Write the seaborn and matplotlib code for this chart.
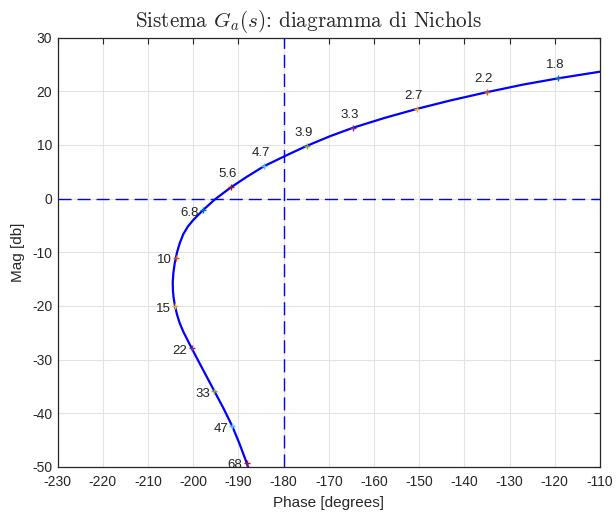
import numpy as np
import pandas as pd
import seaborn as sns
import matplotlib.pyplot as plt

# === Nichols curve (phase in degrees, magnitude in dB) ===
phase = [-110.0, -119.2, -127.0, -135.1, -143.2, -150.6, -157.6, -164.6,
         -169.7, -174.8, -179.7, -184.35, -188.2, -191.65, -195.2, -197.8,
         -200.0, -201.2, -202.2, -203.0, -203.6, -204.1, -204.4, -204.55,
         -204.5, -204.35, -204.05, -203.6, -203.0, -202.2, -201.3, -200.35,
         -197.9, -195.35, -193.3, -191.4, -189.8, -188.2, -187.5]
mag = [23.66, 22.43, 21.26, 19.83, 18.28, 16.71, 15.06, 13.23,
       11.65, 9.87, 7.95, 6.05, 4.05, 2.12, -0.12, -2.1,
       -3.97, -5.2, -6.6, -8.3, -10.0, -12.0, -13.8, -15.5,
       -17.2, -18.5, -20.0, -21.6, -23.2, -24.8, -26.3, -27.88,
       -31.8, -35.84, -39.1, -42.36, -45.6, -49.2, -51.0]

# frequency markers (rad/s) and their position on the curve
freq_labels = ["1.8", "2.2", "2.7", "3.3", "3.9", "4.7", "5.6",
               "6.8", "10", "15", "22", "33", "47", "68"]
freq_phase = [-119.2, -135.1, -150.6, -164.6, -174.8, -184.35, -191.65,
              -197.8, -203.85, -204.05, -200.35, -195.35, -191.4, -188.2]
freq_mag = [22.43, 19.83, 16.71, 13.23, 9.87, 6.05, 2.12,
            -2.1, -11.0, -20.0, -27.88, -35.84, -42.36, -49.2]

xticks = list(range(-230, -109, 10))
yticks = list(range(-50, 31, 10))

matlab_colors = ["#0072BD", "#D95319", "#EDB120", "#7E2F8E",
                 "#77AC30", "#4DBEEE", "#A2142F"]

sns.set_theme(style="white")
plt.rcParams['font.family'] = ['Liberation Sans', 'DejaVu Sans']
plt.rcParams['mathtext.fontset'] = 'cm'
plt.rcParams['axes.unicode_minus'] = False

fig = plt.figure(figsize=(6.16, 5.16), dpi=100, facecolor='white')
ax = fig.add_axes([0.0937, 0.095, 0.8803, 0.832])

curve = pd.DataFrame({"Phase": phase, "Mag": mag})
sns.lineplot(data=curve, x="Phase", y="Mag", sort=False, estimator=None,
             color="#0000ff", linewidth=1.6, ax=ax, zorder=3)

dash = (0, (9.4, 4.3))
ax.axvline(-180, color="#0000ff", linestyle=dash, linewidth=1.0, zorder=2)
ax.axhline(0, color="#0000ff", linestyle=dash, linewidth=1.0, zorder=2)

markers = pd.DataFrame({"Phase": freq_phase, "Mag": freq_mag, "w": freq_labels})
palette = [matlab_colors[i % 7] for i in range(len(freq_labels))]
sns.scatterplot(data=markers, x="Phase", y="Mag", hue="w", palette=palette,
                marker="+", s=18, linewidth=1.0, legend=False, ax=ax, zorder=4)

for lab, x, y in zip(freq_labels, freq_phase, freq_mag):
    if y > 0:
        ax.annotate(lab, (x, y), xytext=(-2.5, 5), textcoords="offset points",
                    ha="center", va="bottom", fontsize=9.5, color="#222222")
    else:
        ax.annotate(lab, (x, y), xytext=(-3, -2), textcoords="offset points",
                    ha="right", va="center", fontsize=9.5, color="#222222")

ax.set_xlim(-230, -110)
ax.set_ylim(-50, 30)
ax.set_xticks(xticks)
ax.set_yticks(yticks)
ax.grid(True, color="#e3e3e3", linewidth=0.8)
ax.set_axisbelow(True)
ax.tick_params(direction="in", length=4, width=0.8, labelsize=10,
               top=True, right=True, colors="#262626")
ax.tick_params(axis="x", pad=6)
ax.tick_params(axis="y", pad=4)
for sp in ax.spines.values():
    sp.set_color("#262626")
    sp.set_linewidth(0.9)

ax.set_xlabel("Phase [degrees]", fontsize=11, color="#262626", labelpad=5)
ax.set_ylabel("Mag [db]", fontsize=11, color="#262626", labelpad=5)
fig.text(0.5, 0.948, r"Sistema $G_a(s)$: diagramma di Nichols", fontsize=15.2,
         fontfamily="cmr10", ha="center", va="baseline")

fig.savefig("out.png", dpi=100, facecolor="white")
